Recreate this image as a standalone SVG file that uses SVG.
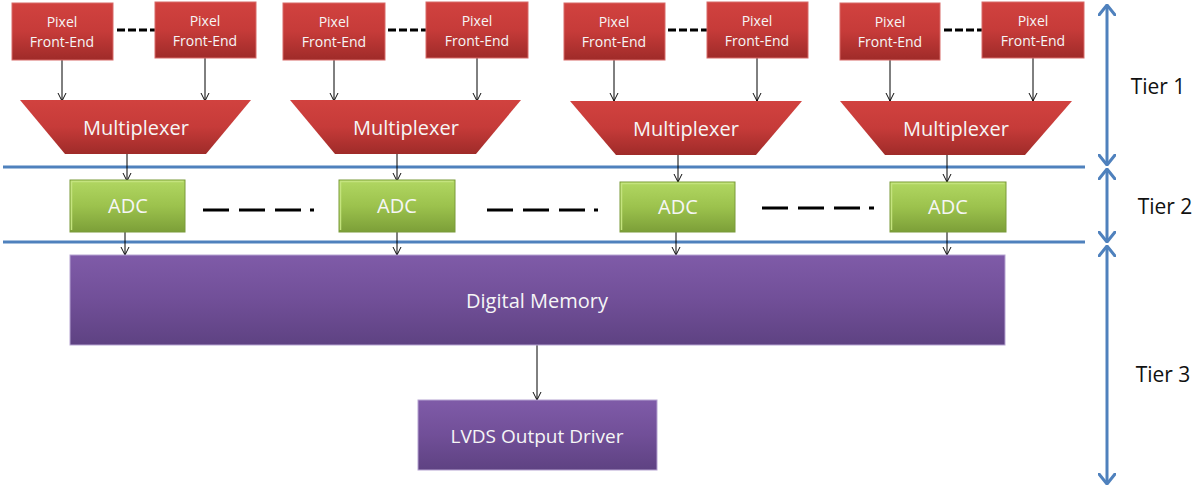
<svg xmlns="http://www.w3.org/2000/svg" width="1197" height="488" viewBox="0 0 1197 488">
<style>
.pfe{fill:url(#gRed);stroke:#d86a68;stroke-width:1}
.mux{fill:url(#gRed)}
.adc{fill:url(#gGreen);stroke:#7a9a3a;stroke-width:1}
.hl{fill:none;stroke:#c4e37e;stroke-width:1.5}
.pur{fill:url(#gPurple);stroke:#b6a3d1;stroke-width:1}
.t{font-family:"Open Sans","Liberation Sans",sans-serif;fill:#f6f6f6;text-anchor:middle}
.s14{font-size:14px}
.s19{font-size:19px}
.s20{font-size:20px}
.tier{font-family:"Open Sans","Liberation Sans",sans-serif;font-size:21px;fill:#111;text-anchor:middle}
.c{stroke:#000;stroke-width:1;fill:none;marker-end:url(#arr)}
.dots{stroke:#000;stroke-width:3;stroke-dasharray:8 3;fill:none}
.dash{stroke:#000;stroke-width:3;stroke-dasharray:26 10 26 10 26 9 5 100;fill:none}
.blue{stroke:#4f81bd;stroke-width:3;fill:none}
.tierarrow{stroke:#4f81bd;stroke-width:3;fill:none;marker-start:url(#barr);marker-end:url(#barr)}
</style>
<defs>
<linearGradient id="gRed" x1="0" y1="0" x2="0" y2="1">
<stop offset="0" stop-color="#d1423f"/>
<stop offset="0.5" stop-color="#c63b39"/>
<stop offset="1" stop-color="#9f2b29"/>
</linearGradient>
<linearGradient id="gGreen" x1="0" y1="0" x2="0" y2="1">
<stop offset="0" stop-color="#b1d762"/>
<stop offset="0.5" stop-color="#9cc24d"/>
<stop offset="1" stop-color="#7c9f38"/>
</linearGradient>
<linearGradient id="gPurple" x1="0" y1="0" x2="0" y2="1">
<stop offset="0" stop-color="#7f5ba8"/>
<stop offset="0.5" stop-color="#714f98"/>
<stop offset="1" stop-color="#5e4282"/>
</linearGradient>
<marker id="arr" viewBox="0 0 10 10" refX="10" refY="5" markerWidth="8" markerHeight="10" markerUnits="userSpaceOnUse" orient="auto">
<path d="M0,0 L10,5 L0,10" fill="none" stroke="#000" stroke-width="1.2"/>
</marker>
<marker id="barr" viewBox="0 0 12 18" refX="11" refY="9" markerWidth="12" markerHeight="18" markerUnits="userSpaceOnUse" orient="auto-start-reverse">
<path d="M1,1 L11,9 L1,17" fill="none" stroke="#4f81bd" stroke-width="3" stroke-linecap="round" stroke-linejoin="round"/>
</marker>
</defs>

<g id="tier-lines">
<line class="blue" x1="3" y1="167" x2="1085" y2="167"/>
<line class="blue" x1="3" y1="242" x2="1085" y2="242"/>
</g>

<g id="connectors">
<line class="c" x1="62" y1="60" x2="62" y2="101"/>
<line class="c" x1="205" y1="58" x2="205" y2="101"/>
<line class="c" x1="334" y1="60" x2="334" y2="101"/>
<line class="c" x1="477" y1="58" x2="477" y2="101"/>
<line class="c" x1="614" y1="60" x2="614" y2="101"/>
<line class="c" x1="757" y1="58" x2="757" y2="101"/>
<line class="c" x1="890" y1="60" x2="890" y2="101"/>
<line class="c" x1="1033" y1="58" x2="1033" y2="101"/>
<line class="c" x1="127" y1="154" x2="127" y2="181"/>
<line class="c" x1="397" y1="154" x2="397" y2="181"/>
<line class="c" x1="678" y1="155" x2="678" y2="182"/>
<line class="c" x1="947" y1="155" x2="947" y2="182"/>
<line class="c" x1="125" y1="232" x2="125" y2="255"/>
<line class="c" x1="397" y1="232" x2="397" y2="255"/>
<line class="c" x1="676" y1="232" x2="676" y2="255"/>
<line class="c" x1="947" y1="232" x2="947" y2="255"/>
<line class="c" x1="537" y1="345" x2="537" y2="400"/>
<line class="dots" x1="117" y1="30" x2="155" y2="30"/>
<line class="dots" x1="388" y1="30" x2="426" y2="30"/>
<line class="dots" x1="668" y1="30" x2="707" y2="30"/>
<line class="dots" x1="944" y1="30" x2="982" y2="30"/>
<line class="dash" x1="203" y1="210" x2="314" y2="210"/>
<line class="dash" x1="487" y1="210" x2="598" y2="210"/>
<line class="dash" x1="762" y1="208" x2="874" y2="208"/>
</g>

<g id="pfe1"><rect class="pfe" x="12" y="3" width="101" height="57"/><text class="t s14" x="62" y="27">Pixel</text><text class="t s14" x="62" y="47">Front-End</text></g>
<g id="pfe2"><rect class="pfe" x="155" y="2" width="101" height="56"/><text class="t s14" x="205" y="26">Pixel</text><text class="t s14" x="205" y="46">Front-End</text></g>
<g id="pfe3"><rect class="pfe" x="283" y="3" width="102" height="57"/><text class="t s14" x="334" y="27">Pixel</text><text class="t s14" x="334" y="47">Front-End</text></g>
<g id="pfe4"><rect class="pfe" x="426" y="2" width="102" height="56"/><text class="t s14" x="477" y="26">Pixel</text><text class="t s14" x="477" y="46">Front-End</text></g>
<g id="pfe5"><rect class="pfe" x="564" y="3" width="101" height="57"/><text class="t s14" x="614" y="27">Pixel</text><text class="t s14" x="614" y="47">Front-End</text></g>
<g id="pfe6"><rect class="pfe" x="707" y="2" width="101" height="56"/><text class="t s14" x="757" y="26">Pixel</text><text class="t s14" x="757" y="46">Front-End</text></g>
<g id="pfe7"><rect class="pfe" x="840" y="3" width="100" height="57"/><text class="t s14" x="890" y="27">Pixel</text><text class="t s14" x="890" y="47">Front-End</text></g>
<g id="pfe8"><rect class="pfe" x="982" y="2" width="102" height="56"/><text class="t s14" x="1033" y="26">Pixel</text><text class="t s14" x="1033" y="46">Front-End</text></g>

<g id="mux1"><polygon class="mux" points="20,100 251,100 206,154 65,154"/><text class="t s20" x="136" y="135">Multiplexer</text></g>
<g id="mux2"><polygon class="mux" points="290,100 521,100 476,154 335,154"/><text class="t s20" x="406" y="135">Multiplexer</text></g>
<g id="mux3"><polygon class="mux" points="570,101 802,101 756,155 616,155"/><text class="t s20" x="686" y="136">Multiplexer</text></g>
<g id="mux4"><polygon class="mux" points="840,101 1072,101 1025,155 885,155"/><text class="t s20" x="956" y="136">Multiplexer</text></g>

<g id="adc1"><rect class="adc" x="70" y="180" width="115" height="52"/><path class="hl" d="M71.5,230 V181.5 H183.5"/><text class="t s20" x="128" y="213">ADC</text></g>
<g id="adc2"><rect class="adc" x="339" y="180" width="116" height="52"/><path class="hl" d="M340.5,230 V181.5 H453.5"/><text class="t s20" x="397" y="213">ADC</text></g>
<g id="adc3"><rect class="adc" x="620" y="182" width="115" height="50"/><path class="hl" d="M621.5,230 V183.5 H733.5"/><text class="t s20" x="678" y="214">ADC</text></g>
<g id="adc4"><rect class="adc" x="890" y="182" width="116" height="50"/><path class="hl" d="M891.5,230 V183.5 H1004.5"/><text class="t s20" x="948" y="214">ADC</text></g>

<g id="memory"><rect class="pur" x="70" y="255" width="935" height="90"/><text class="t s20" x="537" y="308">Digital Memory</text></g>
<g id="lvds"><rect class="pur" x="418" y="400" width="239" height="70"/><text class="t s19" x="537" y="443">LVDS Output Driver</text></g>

<g id="tiers">
<line class="tierarrow" x1="1107" y1="5" x2="1107" y2="165"/>
<line class="tierarrow" x1="1107" y1="169" x2="1107" y2="242"/>
<line class="tierarrow" x1="1107" y1="246" x2="1107" y2="484"/>
<text class="tier" x="1158" y="94">Tier 1</text>
<text class="tier" x="1165" y="214">Tier 2</text>
<text class="tier" x="1163" y="382">Tier 3</text>
</g>
</svg>
